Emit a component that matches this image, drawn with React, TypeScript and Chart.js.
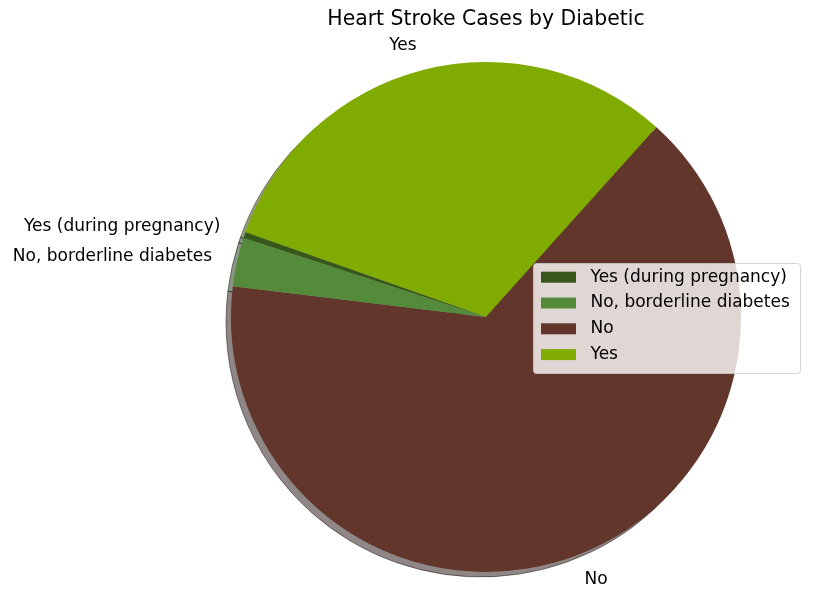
import { useEffect, useRef } from "react";
import { Chart, registerables } from "chart.js";

Chart.register(...registerables);

const chartTitle = "Heart Stroke Cases by Diabetic";
// Order drawn clockwise (Chart.js) so the picture matches the counter-clockwise original
const categories = ["Yes", "No", "No, borderline diabetes", "Yes (during pregnancy)"];
const cases = [8560, 17870, 850, 100];
const sliceColors = ["#80ab00", "#63362c", "#548b3a", "#37561a"];

const FONT = "'DejaVu Sans', sans-serif";

function hexToRgb(hex: string) {
  const n = parseInt(hex.slice(1), 16);
  return { r: (n >> 16) & 255, g: (n >> 8) & 255, b: n & 255 };
}

const shadowPlugin = {
  id: "pieShadow",
  beforeDatasetsDraw(chart: any) {
    const ctx = chart.ctx;
    const meta = chart.getDatasetMeta(0);
    meta.data.forEach((arc: any, i: number) => {
      const p = arc.getProps(["x", "y", "startAngle", "endAngle", "outerRadius"], true);
      const c = hexToRgb(sliceColors[i]);
      const col = `rgba(${Math.round(c.r * 0.3)},${Math.round(c.g * 0.3)},${Math.round(c.b * 0.3)},0.5)`;
      ctx.save();
      ctx.beginPath();
      ctx.moveTo(p.x - 5, p.y + 5);
      ctx.arc(p.x - 5, p.y + 5, p.outerRadius, p.startAngle, p.endAngle);
      ctx.closePath();
      ctx.fillStyle = col;
      ctx.fill();
      ctx.strokeStyle = col;
      ctx.lineWidth = 1;
      ctx.stroke();
      ctx.restore();
    });
  },
};

const labelPlugin = {
  id: "sliceLabels",
  afterDatasetsDraw(chart: any) {
    const ctx = chart.ctx;
    const meta = chart.getDatasetMeta(0);
    ctx.save();
    ctx.font = `17px ${FONT}`;
    ctx.fillStyle = "#000";
    ctx.textBaseline = "middle";
    meta.data.forEach((arc: any, i: number) => {
      const p = arc.getProps(["x", "y", "startAngle", "endAngle", "outerRadius"], true);
      const mid = (p.startAngle + p.endAngle) / 2;
      const r = p.outerRadius * 1.1;
      const lx = p.x + Math.cos(mid) * r;
      const ly = p.y + Math.sin(mid) * r;
      ctx.textAlign = Math.cos(mid) < 0 ? "right" : "left";
      ctx.fillText(categories[i], lx, ly);
    });
    ctx.restore();
  },
};

const legendPlugin = {
  id: "overlayLegend",
  afterDraw(chart: any) {
    const ctx = chart.ctx;
    const items = categories.map((c, i) => ({ label: c, color: sliceColors[i] })).reverse();
    const bx = 533.5, by = 263.5, bw = 267, bh = 110, rad = 3;
    ctx.save();
    ctx.beginPath();
    ctx.moveTo(bx + rad, by);
    ctx.lineTo(bx + bw - rad, by);
    ctx.arcTo(bx + bw, by, bx + bw, by + rad, rad);
    ctx.lineTo(bx + bw, by + bh - rad);
    ctx.arcTo(bx + bw, by + bh, bx + bw - rad, by + bh, rad);
    ctx.lineTo(bx + rad, by + bh);
    ctx.arcTo(bx, by + bh, bx, by + bh - rad, rad);
    ctx.lineTo(bx, by + rad);
    ctx.arcTo(bx, by, bx + rad, by, rad);
    ctx.closePath();
    ctx.fillStyle = "rgba(255,255,255,0.8)";
    ctx.fill();
    ctx.strokeStyle = "rgba(204,204,204,0.8)";
    ctx.lineWidth = 1;
    ctx.stroke();
    ctx.font = `17px ${FONT}`;
    ctx.textBaseline = "middle";
    ctx.textAlign = "left";
    items.forEach((it, k) => {
      const cy = 277.2 + k * 25.8;
      ctx.fillStyle = it.color;
      ctx.fillRect(541, cy - 5.5, 35, 11);
      ctx.fillStyle = "#000";
      ctx.fillText(it.label, 590.5, cy);
    });
    ctx.restore();
  },
};

export default function App() {
  const ref = useRef<HTMLCanvasElement | null>(null);

  useEffect(() => {
    document.body.style.margin = "0";
    if (!ref.current) return;
    const chart = new Chart(ref.current, {
      type: "pie",
      data: {
        labels: categories,
        datasets: [
          {
            data: cases,
            backgroundColor: sliceColors,
            borderWidth: 0,
          },
        ],
      },
      options: {
        responsive: false,
        maintainAspectRatio: false,
        animation: false,
        rotation: -70.6,
        layout: { padding: { left: 231, right: 75, top: 0, bottom: 33 } },
        plugins: {
          legend: { display: false },
          tooltip: { enabled: false },
          title: {
            display: true,
            text: chartTitle,
            color: "#000",
            font: { family: FONT, size: 20.4, weight: "normal", lineHeight: 1.2 },
            padding: { top: 7.75, bottom: 29.75 },
          },
        },
      },
      plugins: [shadowPlugin, labelPlugin, legendPlugin],
    });
    return () => chart.destroy();
  }, []);

  return (
    <div style={{ width: 816, height: 605, background: "#fff" }}>
      <canvas ref={ref} width={816} height={605} style={{ display: "block" }} />
    </div>
  );
}
